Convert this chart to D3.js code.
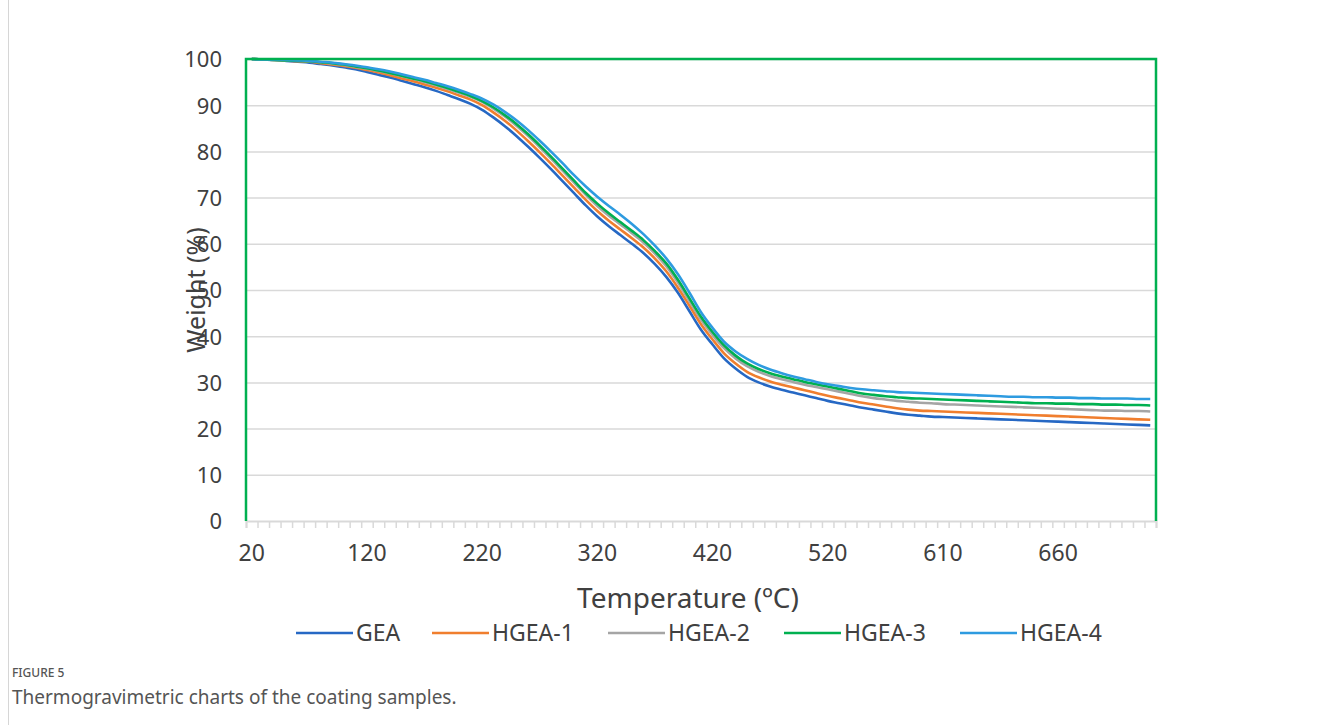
<!DOCTYPE html>
<html>
<head>
<meta charset="utf-8">
<script src="https://cdn.jsdelivr.net/npm/d3@7"></script>
<style>
  body { margin: 0; background: #fff; }
  text { font-family: "Noto Sans", "Open Sans", sans-serif; }
</style>
</head>
<body>
<div id="chart"></div>
<script>
// category temperatures (one per tick interval)
var temperatures = [20, 30, 40, 50, 60, 70, 80, 90, 100, 110,
  120, 130, 140, 150, 160, 170, 180, 190, 200, 210,
  220, 230, 240, 250, 260, 270, 280, 290, 300, 310,
  320, 330, 340, 350, 360, 370, 380, 390, 400, 410,
  420, 430, 440, 450, 460, 470, 480, 490, 500, 510,
  520, 530, 540, 550, 560, 570, 580, 590, 600, 605,
  610, 615, 620, 625, 630, 635, 640, 645, 650, 655,
  660, 665, 670, 675, 680, 685, 690, 695, 700];

var xLabels = [20, 120, 220, 320, 420, 520, 610, 660];
var yTicks = [0, 10, 20, 30, 40, 50, 60, 70, 80, 90, 100];

var seriesNames = ["GEA", "HGEA-1", "HGEA-2", "HGEA-3", "HGEA-4"];
var seriesColors = ["#2668C4", "#F07E2E", "#A5A5A5", "#00B050", "#2E9BE0"];

var gea = [100.0, 99.9, 99.8, 99.6, 99.4, 99.2, 98.9, 98.6, 98.2, 97.8,
  97.2, 96.6, 96.0, 95.3, 94.6, 93.9, 93.1, 92.2, 91.3, 90.3,
  89.0, 87.3, 85.4, 83.3, 81.0, 78.6, 76.1, 73.5, 70.9, 68.3,
  65.9, 63.8, 61.9, 60.0, 58.0, 55.6, 52.8, 49.4, 45.4, 41.4,
  38.2, 35.2, 33.0, 31.2, 30.0, 29.1, 28.4, 27.8, 27.2, 26.6,
  26.0, 25.5, 25.0, 24.5, 24.1, 23.7, 23.3, 23.0, 22.8, 22.6,
  22.5, 22.4, 22.3, 22.2, 22.1, 22.0, 21.9, 21.8, 21.7, 21.6,
  21.5, 21.4, 21.3, 21.2, 21.1, 21.0, 20.9, 20.8, 20.7];

var hgea1 = [100.0, 99.9, 99.8, 99.7, 99.5, 99.4, 99.1, 98.8, 98.5, 98.1,
  97.6, 97.1, 96.5, 95.8, 95.2, 94.5, 93.8, 93.0, 92.1, 91.2,
  90.0, 88.4, 86.6, 84.5, 82.2, 79.8, 77.3, 74.7, 72.1, 69.5,
  67.1, 65.0, 63.1, 61.2, 59.2, 56.8, 54.0, 50.5, 46.6, 42.6,
  39.3, 36.3, 34.1, 32.3, 31.1, 30.2, 29.5, 28.9, 28.3, 27.7,
  27.1, 26.6, 26.1, 25.6, 25.2, 24.8, 24.4, 24.1, 23.9, 23.8,
  23.7, 23.6, 23.5, 23.4, 23.3, 23.2, 23.1, 23.0, 22.9, 22.8,
  22.7, 22.6, 22.5, 22.4, 22.3, 22.2, 22.1, 22.0, 21.9];

var hgea2 = [100.0, 99.9, 99.8, 99.7, 99.6, 99.5, 99.3, 99.0, 98.7, 98.3,
  97.9, 97.4, 96.9, 96.3, 95.7, 95.0, 94.3, 93.5, 92.7, 91.8,
  90.7, 89.2, 87.5, 85.5, 83.3, 80.9, 78.4, 75.8, 73.2, 70.6,
  68.2, 66.1, 64.2, 62.3, 60.3, 57.9, 55.1, 51.6, 47.6, 43.6,
  40.3, 37.4, 35.2, 33.5, 32.3, 31.4, 30.7, 30.1, 29.5, 29.0,
  28.5, 28.0, 27.5, 27.0, 26.6, 26.3, 26.0, 25.8, 25.6, 25.5,
  25.3, 25.2, 25.1, 25.0, 24.9, 24.8, 24.7, 24.6, 24.5, 24.4,
  24.3, 24.2, 24.1, 24.0, 23.9, 23.9, 23.8, 23.8, 23.7];

var hgea3 = [100.0, 99.9, 99.8, 99.7, 99.6, 99.5, 99.3, 99.1, 98.8, 98.4,
  98.0, 97.5, 97.0, 96.4, 95.8, 95.2, 94.5, 93.7, 92.9, 92.0,
  90.9, 89.5, 87.8, 85.9, 83.7, 81.3, 78.8, 76.2, 73.6, 71.0,
  68.7, 66.6, 64.7, 62.8, 60.8, 58.4, 55.7, 52.2, 48.2, 44.2,
  40.9, 38.0, 35.8, 34.1, 32.9, 32.0, 31.3, 30.7, 30.1, 29.6,
  29.1, 28.6, 28.1, 27.6, 27.3, 27.0, 26.8, 26.6, 26.5, 26.4,
  26.3, 26.2, 26.1, 26.0, 25.9, 25.8, 25.7, 25.6, 25.5, 25.5,
  25.4, 25.4, 25.3, 25.3, 25.2, 25.2, 25.1, 25.1, 25.0];

var hgea4 = [100.0, 99.9, 99.9, 99.8, 99.7, 99.6, 99.4, 99.2, 98.9, 98.6,
  98.2, 97.8, 97.3, 96.7, 96.1, 95.5, 94.8, 94.1, 93.3, 92.4,
  91.4, 90.1, 88.5, 86.7, 84.6, 82.3, 79.9, 77.4, 74.8, 72.4,
  70.2, 68.2, 66.3, 64.3, 62.1, 59.6, 56.8, 53.4, 49.4, 45.2,
  41.8, 38.8, 36.7, 35.1, 33.8, 32.8, 32.0, 31.3, 30.7, 30.1,
  29.6, 29.2, 28.8, 28.5, 28.3, 28.1, 27.9, 27.8, 27.7, 27.6,
  27.5, 27.4, 27.3, 27.2, 27.1, 27.0, 26.9, 26.9, 26.8, 26.8,
  26.7, 26.7, 26.6, 26.6, 26.5, 26.5, 26.5, 26.4, 26.4];

var allSeries = [gea, hgea1, hgea2, hgea3, hgea4];

var svgWidth = 1320;
var svgHeight = 725;
var plot = { left: 246, top: 59, right: 1156, bottom: 521 };
var plotWidth = plot.right - plot.left;
var plotHeight = plot.bottom - plot.top;

var svg = d3.select("#chart")
  .append("svg")
  .attr("width", svgWidth)
  .attr("height", svgHeight);

// page frame line on the left
svg.append("line")
  .attr("x1", 8.5).attr("x2", 8.5)
  .attr("y1", 0).attr("y2", svgHeight)
  .attr("stroke", "#d6d6d6").attr("stroke-width", 1);

var g = svg.append("g")
  .attr("transform", `translate(${plot.left}, ${plot.top})`);

// scales
var xBand = d3.scaleBand()
  .domain(temperatures)
  .range([0, plotWidth]);

var xEdge = d3.scaleLinear()
  .domain([0, temperatures.length])
  .range([0, plotWidth]);

var y = d3.scaleLinear()
  .domain([0, 100])
  .range([plotHeight, 0]);

// gridlines + y labels
var yAxis = g.append("g")
  .call(d3.axisLeft(y).tickValues(yTicks).tickSize(-plotWidth).tickPadding(24));
yAxis.select(".domain").remove();
yAxis.selectAll(".tick line")
  .attr("stroke", "#d9d9d9")
  .attr("stroke-width", 1.5)
  .attr("display", d => d === 0 ? "none" : null);
yAxis.selectAll(".tick text")
  .attr("fill", "#404040")
  .style("font-size", "22px")
  .attr("dy", "0.36em");

// x axis tick marks at category edges
var xTicks = g.append("g")
  .attr("transform", `translate(0, ${plotHeight})`)
  .call(d3.axisBottom(xEdge).tickValues(d3.range(temperatures.length + 1)).tickSize(7).tickFormat(""));
xTicks.select(".domain").attr("stroke", "#d9d9d9").attr("stroke-width", 2);
xTicks.selectAll(".tick line").attr("stroke", "#d9d9d9").attr("stroke-width", 1.5);

// x labels
var xAxis = g.append("g")
  .attr("transform", `translate(0, ${plotHeight})`)
  .call(d3.axisBottom(xBand).tickValues(xLabels).tickSize(0).tickPadding(24));
xAxis.select(".domain").remove();
xAxis.selectAll(".tick text")
  .attr("fill", "#404040")
  .style("font-size", "23px");

// series lines
var line = d3.line()
  .x((d, i) => xBand(temperatures[i]) + xBand.bandwidth() / 2)
  .y(d => y(d))
  .curve(d3.curveMonotoneX);

allSeries.forEach(function (values, k) {
  g.append("path")
    .datum(values)
    .attr("fill", "none")
    .attr("stroke", seriesColors[k])
    .attr("stroke-width", 2.6)
    .attr("stroke-linejoin", "round")
    .attr("d", line);
});

// green plot border (left, top, right)
g.append("path")
  .attr("d", `M0,${plotHeight}V0H${plotWidth}V${plotHeight}`)
  .attr("fill", "none")
  .attr("stroke", "#00B050")
  .attr("stroke-width", 2.5);

// axis titles
svg.append("text")
  .attr("transform", `translate(205, 290) rotate(-90)`)
  .attr("text-anchor", "middle")
  .attr("fill", "#404040")
  .style("font-size", "25px")
  .text("Weight (%)");

svg.append("text")
  .attr("x", 688)
  .attr("y", 608)
  .attr("text-anchor", "middle")
  .attr("fill", "#404040")
  .style("font-size", "28px")
  .text("Temperature (ºC)");

// legend
var legendX = [296, 432, 608, 784, 960];
var legend = svg.append("g").attr("transform", "translate(0, 633)");
seriesNames.forEach(function (name, k) {
  var item = legend.append("g").attr("transform", `translate(${legendX[k]}, 0)`);
  item.append("line")
    .attr("x1", 0).attr("x2", 57)
    .attr("stroke", seriesColors[k])
    .attr("stroke-width", 2.6);
  item.append("text")
    .attr("x", 60)
    .attr("dy", "0.35em")
    .attr("fill", "#404040")
    .style("font-size", "23px")
    .text(name);
});

// caption
svg.append("text")
  .attr("x", 12)
  .attr("y", 677)
  .attr("fill", "#555")
  .style("font-size", "12px")
  .style("font-weight", "500")
  .text("FIGURE 5");

svg.append("text")
  .attr("x", 12)
  .attr("y", 704)
  .attr("fill", "#555")
  .style("font-size", "19px")
  .text("Thermogravimetric charts of the coating samples.");
</script>
</body>
</html>
